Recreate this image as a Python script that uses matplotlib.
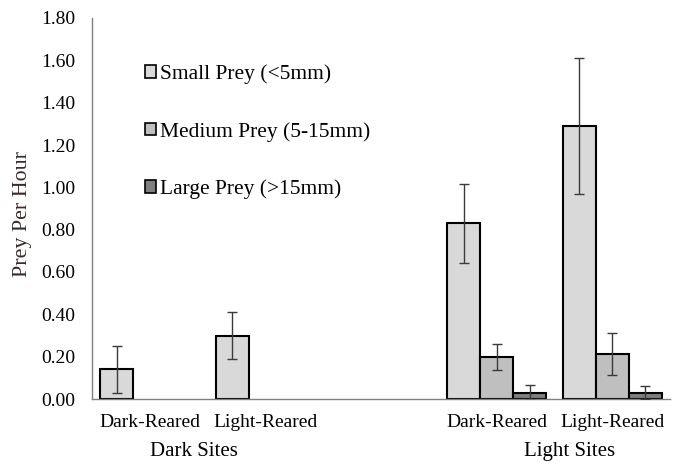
import matplotlib
matplotlib.use("Agg")
import matplotlib.pyplot as plt
import numpy as np

plt.rcParams['font.family'] = ['Liberation Serif', 'DejaVu Serif']

categories = ["Dark-Reared", "Light-Reared", "", "Dark-Reared", "Light-Reared"]
groups = ["Dark Sites", "Light Sites"]
series = ["Small Prey (<5mm)", "Medium Prey (5-15mm)", "Large Prey (>15mm)"]
small = [0.14, 0.30, np.nan, 0.83, 1.29]
small_err = [0.11, 0.11, np.nan, 0.187, 0.32]
medium = [np.nan, np.nan, np.nan, 0.20, 0.214]
medium_err = [np.nan, np.nan, np.nan, 0.062, 0.10]
large = [np.nan, np.nan, np.nan, 0.03, 0.03]
large_err = [np.nan, np.nan, np.nan, 0.034, 0.03]
yticks = [0.0, 0.2, 0.4, 0.6, 0.8, 1.0, 1.2, 1.4, 1.6, 1.8]

colors = ['#d9d9d9', '#bfbfbf', '#7f7f7f']

fig = plt.figure(figsize=(6.73, 4.70), dpi=100)
ax = fig.add_axes([92/673, 71/470, 578/673, 381/470])

x = np.arange(len(categories)) + 0.5
w = 0.286
data = [(small, small_err), (medium, medium_err), (large, large_err)]
for k, ((vals, errs), col, lab) in enumerate(zip(data, colors, series)):
    pos = x + (k - 1) * w
    ax.bar(pos, vals, width=w, color=col, edgecolor='black', linewidth=1.5, label=lab, zorder=2)
    ax.errorbar(pos, vals, yerr=errs, fmt='none', ecolor='#3a3a3a', elinewidth=1.0,
                capsize=3.5, capthick=1.0, zorder=3)

ax.set_xlim(0, 5)
ax.set_ylim(0, 1.8)
ax.set_yticks(yticks)
ax.set_yticklabels([f"{v:.2f}" for v in yticks], fontsize=14)
ax.tick_params(axis='y', length=0, pad=12)
ax.set_xticks(x)
ax.set_xticklabels(categories, fontsize=14)
ax.tick_params(axis='x', length=0, pad=11)

for s in ['top', 'right']:
    ax.spines[s].set_visible(False)
ax.spines['left'].set_color('#808080')
ax.spines['bottom'].set_color('#808080')
ax.spines['left'].set_linewidth(1.0)
ax.spines['bottom'].set_linewidth(1.0)

ax.set_ylabel("Prey Per Hour", fontsize=15.75, color='#3a2a2a')
ax.yaxis.set_label_coords(-0.1038, 0.486)

ax.text(0.88, -0.139, groups[0], transform=ax.get_xaxis_transform(), ha='center', va='center', fontsize=15)
ax.text(4.13, -0.139, groups[1], transform=ax.get_xaxis_transform(), ha='center', va='center', fontsize=15)

leg = ax.legend(loc='upper left', bbox_to_anchor=(0.092, 0.878), frameon=False, fontsize=15.5,
                labelspacing=1.75, handlelength=0.5, handleheight=0.5, handletextpad=0.2,
                borderaxespad=0, borderpad=0)
for h in leg.legend_handles:
    h.set_linewidth(1.2)

fig.savefig("out.png", dpi=100)
